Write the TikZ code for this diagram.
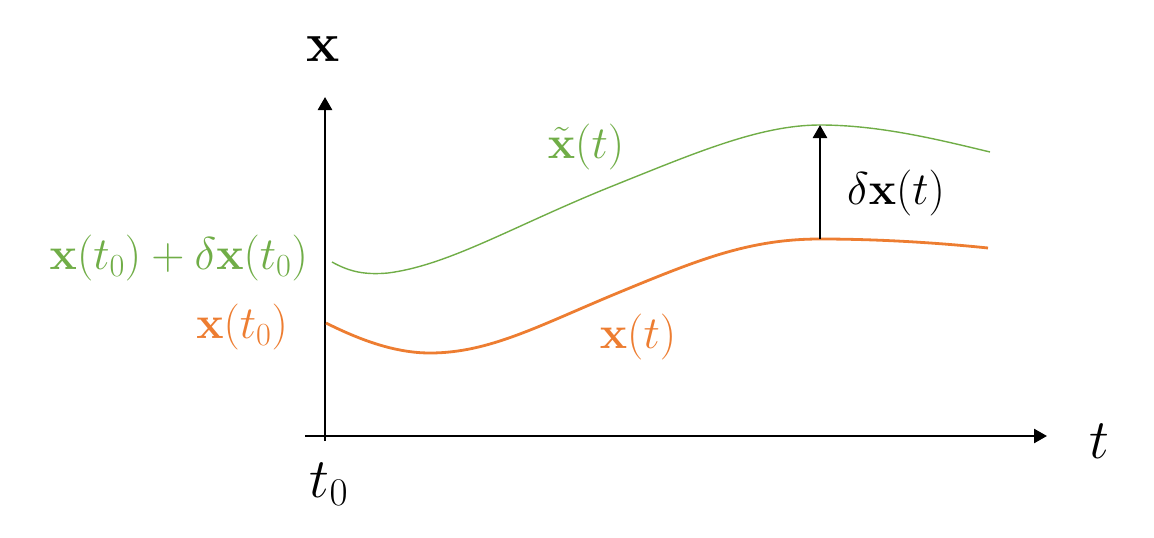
\RequirePackage{fix-cm}
\documentclass[tikz,border=0pt]{standalone}
\usepackage{amsmath}
\usetikzlibrary{arrows.meta}

\definecolor{curvegreen}{HTML}{70AD47}
\definecolor{curveorange}{HTML}{ED7D31}

\tikzset{
  axis/.style={line width=2.6pt, -{Triangle[width=14pt,length=13pt]}},
  gap/.style={line width=2.6pt, -{Triangle[width=14pt,length=13pt]}},
  biglabel/.style={font=\fontsize{56}{64}\selectfont, inner sep=0pt},
  curvelabel/.style={font=\fontsize{46}{55}\selectfont, inner sep=0pt}
}

\begin{document}
\begin{tikzpicture}[x=1pt, y=-1pt]
\useasboundingbox (0,0) rectangle (1154,538);

% axes
\coordinate (ybot) at (325,441);
\coordinate (ytop) at (325,97);
\coordinate (xstart) at (305,436);
\coordinate (xend) at (1047,436);
\draw[axis] (ybot) -- (ytop);
\draw[axis] (xstart) -- (xend);

\node (xaxis) [biglabel] at (323,49) {$\mathbf{x}$};
\node (taxis) [biglabel] at (1099,441) {$t$};
\node (tzero) [biglabel] at (329,484) {$t_0$};

% curves
\coordinate (gstart) at (332,262);
\coordinate (gpeak) at (820,125);
\coordinate (gend) at (990,152);
\draw[curvegreen, line width=1.4pt] (gstart)
  .. controls (350,272) and (365,275) .. (388,273)
  .. controls (450,265) and (515,225) .. (615,185)
  .. controls (695,153) and (760,125) .. (gpeak)
  .. controls (880,125) and (940,140) .. (gend);

\coordinate (ostart) at (326,323);
\coordinate (opeak) at (820,239);
\coordinate (oend) at (988,248);
\draw[curveorange, line width=2.8pt] (ostart)
  .. controls (360,340) and (395,353) .. (430,353)
  .. controls (490,353) and (540,325) .. (620,292)
  .. controls (700,259) and (750,239) .. (opeak)
  .. controls (880,239) and (940,243) .. (oend);

% difference
\draw[gap] (opeak) -- (gpeak);

\node (pert) [curvelabel, text=curvegreen] at (586,147) {$\tilde{\mathbf{x}}(t)$};
\node (delta) [curvelabel] at (896,193) {$\delta\mathbf{x}(t)$};
\node (nom) [curvelabel, text=curveorange] at (638,337) {$\mathbf{x}(t)$};
\node (pertzero) [curvelabel, text=curvegreen, anchor=east] at (308,258) {$\mathbf{x}(t_0)+\delta\mathbf{x}(t_0)$};
\node (nomzero) [curvelabel, text=curveorange, anchor=east] at (288,327) {$\mathbf{x}(t_0)$};

\end{tikzpicture}
\end{document}
